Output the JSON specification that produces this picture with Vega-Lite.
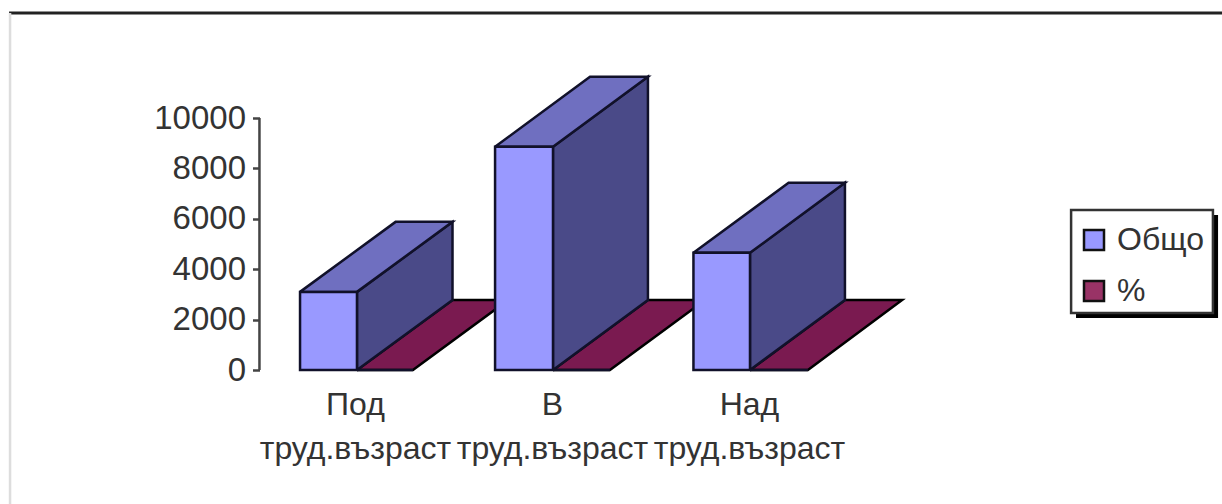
{"$schema":"https://vega.github.io/schema/vega-lite/v6.json","width":1222,"height":504,"autosize":{"type":"none"},"padding":0,"background":"white","config":{"view":{"stroke":null},"font":"Liberation Sans","axis":{"grid":false,"domain":false,"title":null}},
"datasets":{
"bars":[
{"category":1,"series":"Общо","start":0.721,"end":1.01,"value":3100},
{"category":2,"series":"Общо","start":1.711,"end":2.005,"value":8860},
{"category":3,"series":"Общо","start":2.718,"end":3.005,"value":4650},
{"category":1,"series":"%","start":1.01,"end":1.294,"value":0},
{"category":2,"series":"%","start":2.005,"end":2.294,"value":0},
{"category":3,"series":"%","start":3.005,"end":3.299,"value":0}],
"faces":[
{"id":"f1","face":"floor","step":0,"pos":1.01,"val":0},{"id":"f1","face":"floor","step":1,"pos":1.495,"val":2778},{"id":"f1","face":"floor","step":2,"pos":1.777,"val":2778},{"id":"f1","face":"floor","step":3,"pos":1.294,"val":0},{"id":"f1","face":"floor","step":4,"pos":1.01,"val":0},
{"id":"f2","face":"floor","step":0,"pos":2.005,"val":0},{"id":"f2","face":"floor","step":1,"pos":2.487,"val":2778},{"id":"f2","face":"floor","step":2,"pos":2.777,"val":2778},{"id":"f2","face":"floor","step":3,"pos":2.294,"val":0},{"id":"f2","face":"floor","step":4,"pos":2.005,"val":0},
{"id":"f3","face":"floor","step":0,"pos":3.005,"val":0},{"id":"f3","face":"floor","step":1,"pos":3.487,"val":2778},{"id":"f3","face":"floor","step":2,"pos":3.777,"val":2778},{"id":"f3","face":"floor","step":3,"pos":3.299,"val":0},{"id":"f3","face":"floor","step":4,"pos":3.005,"val":0},
{"id":"s1","face":"side","step":0,"pos":1.01,"val":0},{"id":"s1","face":"side","step":1,"pos":1.01,"val":3100},{"id":"s1","face":"side","step":2,"pos":1.495,"val":5878},{"id":"s1","face":"side","step":3,"pos":1.495,"val":2778},{"id":"s1","face":"side","step":4,"pos":1.01,"val":0},
{"id":"s2","face":"side","step":0,"pos":2.005,"val":0},{"id":"s2","face":"side","step":1,"pos":2.005,"val":8860},{"id":"s2","face":"side","step":2,"pos":2.487,"val":11638},{"id":"s2","face":"side","step":3,"pos":2.487,"val":2778},{"id":"s2","face":"side","step":4,"pos":2.005,"val":0},
{"id":"s3","face":"side","step":0,"pos":3.005,"val":0},{"id":"s3","face":"side","step":1,"pos":3.005,"val":4650},{"id":"s3","face":"side","step":2,"pos":3.487,"val":7428},{"id":"s3","face":"side","step":3,"pos":3.487,"val":2778},{"id":"s3","face":"side","step":4,"pos":3.005,"val":0},
{"id":"t1","face":"top","step":0,"pos":0.721,"val":3100},{"id":"t1","face":"top","step":1,"pos":1.206,"val":5878},{"id":"t1","face":"top","step":2,"pos":1.495,"val":5878},{"id":"t1","face":"top","step":3,"pos":1.01,"val":3100},{"id":"t1","face":"top","step":4,"pos":0.721,"val":3100},
{"id":"t2","face":"top","step":0,"pos":1.711,"val":8860},{"id":"t2","face":"top","step":1,"pos":2.193,"val":11638},{"id":"t2","face":"top","step":2,"pos":2.487,"val":11638},{"id":"t2","face":"top","step":3,"pos":2.005,"val":8860},{"id":"t2","face":"top","step":4,"pos":1.711,"val":8860},
{"id":"t3","face":"top","step":0,"pos":2.718,"val":4650},{"id":"t3","face":"top","step":1,"pos":3.201,"val":7428},{"id":"t3","face":"top","step":2,"pos":3.487,"val":7428},{"id":"t3","face":"top","step":3,"pos":3.005,"val":4650},{"id":"t3","face":"top","step":4,"pos":2.718,"val":4650}]
},
"layer":[
{"data":{"values":[{"a":-0.756,"b":5.402,"v":14167}]},"mark":{"type":"rule","stroke":"#222222","strokeWidth":3},"encoding":{"x":{"field":"a","type":"quantitative"},"x2":{"field":"b"},"y":{"field":"v","type":"quantitative"}}},
{"data":{"values":[{"a":-0.751,"v":14167,"w":-5318}]},"mark":{"type":"rule","stroke":"#dddddd","strokeWidth":2.5},"encoding":{"x":{"field":"a","type":"quantitative"},"y":{"field":"v","type":"quantitative"},"y2":{"field":"w"}}},
{"data":{"values":[{"a":0.515,"v":0,"w":10000}]},"mark":{"type":"rule","stroke":"#444444","strokeWidth":2.5},"encoding":{"x":{"field":"a","type":"quantitative"},"y":{"field":"v","type":"quantitative"},"y2":{"field":"w"}}},
{"data":{"values":[{"a":4.66,"b":5.381,"v":6151,"w":2063}]},"mark":{"type":"rect","fill":"#000000"},"encoding":{"x":{"field":"a","type":"quantitative"},"x2":{"field":"b"},"y":{"field":"v","type":"quantitative"},"y2":{"field":"w"}}},
{"data":{"values":[{"a":4.635,"b":5.355,"v":6349,"w":2262}]},"mark":{"type":"rect","fill":"#ffffff","stroke":"#333333","strokeWidth":2.5},"encoding":{"x":{"field":"a","type":"quantitative"},"x2":{"field":"b"},"y":{"field":"v","type":"quantitative"},"y2":{"field":"w"}}},
{"data":{"name":"faces"},"transform":[{"filter":"datum.face==='floor'"}],"mark":{"type":"line","fill":"#7a1a50","stroke":"#000000","strokeWidth":2.5},"encoding":{"x":{"field":"pos","type":"quantitative"},"y":{"field":"val","type":"quantitative"},"detail":{"field":"id"},"order":{"field":"step"}}},
{"data":{"name":"faces"},"transform":[{"filter":"datum.face==='side'"}],"mark":{"type":"line","fill":"#4a4a88","stroke":"#11112a","strokeWidth":2.5},"encoding":{"x":{"field":"pos","type":"quantitative"},"y":{"field":"val","type":"quantitative"},"detail":{"field":"id"},"order":{"field":"step"}}},
{"data":{"name":"faces"},"transform":[{"filter":"datum.face==='top'"}],"mark":{"type":"line","fill":"#6f6fc0","stroke":"#11112a","strokeWidth":2.5},"encoding":{"x":{"field":"pos","type":"quantitative"},"y":{"field":"val","type":"quantitative"},"detail":{"field":"id"},"order":{"field":"step"}}},
{"data":{"name":"bars"},"mark":{"type":"rect","stroke":"#11112a","strokeWidth":2.5},"encoding":{
"x":{"field":"start","type":"quantitative","scale":{"domain":[-0.80203,5.40102],"nice":false,"zero":false},"axis":{"title":null,"values":[1,2,3],"domain":false,"grid":false,"ticks":false,"offset":-134,"labelPadding":19,"labelFontSize":32,"labelFont":"Liberation Sans","labelColor":"#333333","labelLineHeight":44,"labelLimit":500,"labelOverlap":false,"labelBound":false,"labelFlush":false,"labelExpr":"datum.value==1?['Под','труд.възраст']:datum.value==2?['В','труд.възраст']:['Над','труд.възраст']"}},
"x2":{"field":"end"},
"y":{"field":"value","type":"quantitative","scale":{"domain":[-5317.46,14682.54],"nice":false,"zero":false},"axis":{"title":null,"values":[0,2000,4000,6000,8000,10000],"format":"d","domain":false,"grid":false,"tickSize":7,"tickWidth":2.5,"tickColor":"#444444","offset":-259.5,"labelPadding":7,"labelFontSize":33,"labelFont":"Liberation Sans","labelColor":"#333333","labelOverlap":false,"labelBound":false,"labelFlush":false}},
"y2":{"datum":0},
"fill":{"field":"series","type":"nominal","scale":{"domain":["Общо","%"],"range":["#9999ff","#993366"]},"legend":{"title":null,"orient":"none","legendX":1078,"legendY":224,"padding":0,"symbolType":"square","symbolSize":400,"symbolStrokeColor":"#111111","symbolStrokeWidth":2.5,"labelFontSize":32,"labelFont":"Liberation Sans","labelColor":"#333333","labelOffset":7,"rowPadding":19,"labelLimit":200}}
}}
]}
